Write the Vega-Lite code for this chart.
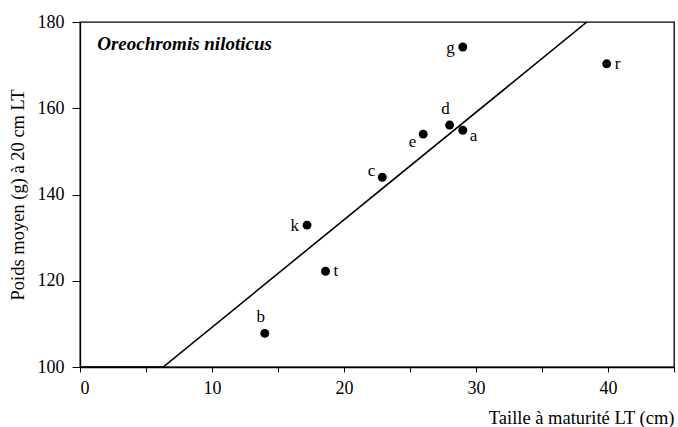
{
  "$schema": "https://vega.github.io/schema/vega-lite/v6.json",
  "width": 594,
  "height": 345,
  "autosize": "none",
  "padding": {"left": 80, "top": 22, "right": 4, "bottom": 60},
  "background": "white",
  "config": {
    "font": "Liberation Serif",
    "view": {"stroke": "black", "strokeWidth": 1.3},
    "axis": {
      "grid": false,
      "domainColor": "black",
      "domainWidth": 1.3,
      "tickColor": "black",
      "labelColor": "black",
      "titleColor": "black",
      "labelFont": "Liberation Serif",
      "titleFont": "Liberation Serif",
      "labelFontSize": 18,
      "titleFontSize": 18.5,
      "titleFontWeight": "normal"
    }
  },
  "datasets": {
    "points": [
      {"taille": 29.0, "poids": 174.2, "lab": "g", "pos": "left"},
      {"taille": 39.9, "poids": 170.3, "lab": "r", "pos": "right"},
      {"taille": 28.0, "poids": 156.1, "lab": "d", "pos": "top"},
      {"taille": 29.0, "poids": 154.9, "lab": "a", "pos": "rightlow"},
      {"taille": 26.0, "poids": 154.0, "lab": "e", "pos": "leftlow"},
      {"taille": 22.9, "poids": 144.0, "lab": "c", "pos": "lefthigh"},
      {"taille": 17.2, "poids": 132.9, "lab": "k", "pos": "left"},
      {"taille": 18.6, "poids": 122.2, "lab": "t", "pos": "right"},
      {"taille": 14.0, "poids": 107.8, "lab": "b", "pos": "top"}
    ],
    "fit": [
      {"taille": 0, "poids": 100},
      {"taille": 6.3, "poids": 100},
      {"taille": 38.4, "poids": 180}
    ],
    "note": [
      {"taille": 1.3, "poids": 175.0, "txt": "Oreochromis niloticus"}
    ]
  },
  "layer": [
    {
      "data": {"name": "fit"},
      "mark": {"type": "line", "color": "black", "strokeWidth": 1.6, "clip": true},
      "encoding": {
        "x": {
          "field": "taille",
          "type": "quantitative",
          "scale": {"domain": [0, 45], "nice": false},
          "axis": {
            "values": [0, 5, 10, 15, 20, 25, 30, 35, 40, 45],
            "labelExpr": "datum.value % 10 == 0 && datum.value < 45 ? datum.label : ''",
            "tickSize": 5,
            "labelPadding": 7,
            "title": "Taille à maturité LT (cm)",
            "titleAnchor": "end",
            "titleAlign": "right",
            "titlePadding": 11
          }
        },
        "y": {
          "field": "poids",
          "type": "quantitative",
          "scale": {"domain": [100, 180], "nice": false},
          "axis": {
            "values": [100, 120, 140, 160, 180],
            "tickSize": 8,
            "labelPadding": 8,
            "title": "Poids moyen (g) à 20 cm LT",
            "titlePadding": 10
          }
        },
        "order": {"field": "taille"}
      }
    },
    {
      "data": {"name": "points"},
      "mark": {"type": "point", "filled": true, "color": "black", "opacity": 1, "size": 80},
      "encoding": {
        "x": {"field": "taille", "type": "quantitative"},
        "y": {"field": "poids", "type": "quantitative"}
      }
    },
    {
      "data": {"name": "points"},
      "transform": [{"filter": "datum.pos == 'left'"}],
      "mark": {"type": "text", "align": "right", "baseline": "middle", "dx": -8, "dy": 1, "fontSize": 17, "color": "black"},
      "encoding": {
        "x": {"field": "taille", "type": "quantitative"},
        "y": {"field": "poids", "type": "quantitative"},
        "text": {"field": "lab"}
      }
    },
    {
      "data": {"name": "points"},
      "transform": [{"filter": "datum.pos == 'right'"}],
      "mark": {"type": "text", "align": "left", "baseline": "middle", "dx": 8, "dy": 0, "fontSize": 17, "color": "black"},
      "encoding": {
        "x": {"field": "taille", "type": "quantitative"},
        "y": {"field": "poids", "type": "quantitative"},
        "text": {"field": "lab"}
      }
    },
    {
      "data": {"name": "points"},
      "transform": [{"filter": "datum.pos == 'top'"}],
      "mark": {"type": "text", "align": "center", "baseline": "bottom", "dx": -4, "dy": -7, "fontSize": 17, "color": "black"},
      "encoding": {
        "x": {"field": "taille", "type": "quantitative"},
        "y": {"field": "poids", "type": "quantitative"},
        "text": {"field": "lab"}
      }
    },
    {
      "data": {"name": "points"},
      "transform": [{"filter": "datum.pos == 'rightlow'"}],
      "mark": {"type": "text", "align": "left", "baseline": "middle", "dx": 7, "dy": 6, "fontSize": 17, "color": "black"},
      "encoding": {
        "x": {"field": "taille", "type": "quantitative"},
        "y": {"field": "poids", "type": "quantitative"},
        "text": {"field": "lab"}
      }
    },
    {
      "data": {"name": "points"},
      "transform": [{"filter": "datum.pos == 'leftlow'"}],
      "mark": {"type": "text", "align": "right", "baseline": "middle", "dx": -7, "dy": 8, "fontSize": 17, "color": "black"},
      "encoding": {
        "x": {"field": "taille", "type": "quantitative"},
        "y": {"field": "poids", "type": "quantitative"},
        "text": {"field": "lab"}
      }
    },
    {
      "data": {"name": "points"},
      "transform": [{"filter": "datum.pos == 'lefthigh'"}],
      "mark": {"type": "text", "align": "right", "baseline": "middle", "dx": -7, "dy": -6, "fontSize": 17, "color": "black"},
      "encoding": {
        "x": {"field": "taille", "type": "quantitative"},
        "y": {"field": "poids", "type": "quantitative"},
        "text": {"field": "lab"}
      }
    },
    {
      "data": {"name": "note"},
      "mark": {"type": "text", "align": "left", "baseline": "middle", "fontSize": 19, "fontWeight": "bold", "fontStyle": "italic", "color": "black"},
      "encoding": {
        "x": {"field": "taille", "type": "quantitative"},
        "y": {"field": "poids", "type": "quantitative"},
        "text": {"field": "txt"}
      }
    }
  ]
}
